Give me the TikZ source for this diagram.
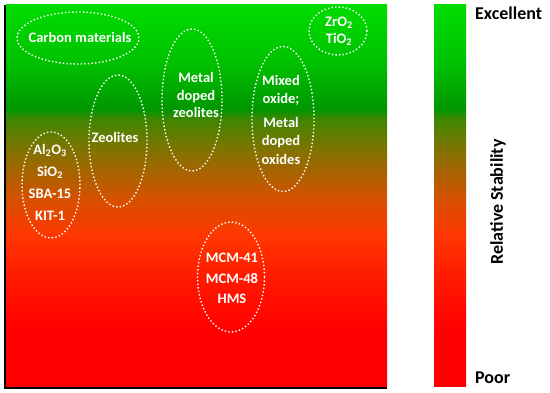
\documentclass[tikz,border=0pt]{standalone}
\usepackage{fontspec}
\setmainfont{Carlito}
\usetikzlibrary{shapes.geometric}
\definecolor{cA}{RGB}{0,220,0}
\definecolor{cB}{RGB}{0,195,0}
\definecolor{cC}{RGB}{0,150,0}
\definecolor{cD}{RGB}{60,135,0}
\definecolor{cE}{RGB}{130,115,0}
\definecolor{cF}{RGB}{215,80,0}
\definecolor{cG}{RGB}{255,55,0}
\definecolor{cH}{RGB}{255,25,0}
\definecolor{cI}{RGB}{255,0,0}
\pgfdeclareverticalshading{stab}{100bp}{%
  color(0bp)=(cI); color(25bp)=(cI); color(32.5bp)=(cI); color(39bp)=(cH);
  color(44.9bp)=(cG); color(49.5bp)=(cF); color(56bp)=(cE); color(60.2bp)=(cD);
  color(61.3bp)=(cC); color(67.8bp)=(cB); color(75bp)=(cA); color(100bp)=(cA)}
\tikzset{
  ring/.style={ellipse, draw=white, line width=1.4pt, dash pattern=on 1.4pt off 2.2pt, inner sep=0pt},
  lbl/.style={text=white, font=\bfseries\fontsize{14.5}{18}\selectfont, align=center, inner sep=0pt},
  side/.style={text=black, font=\bfseries\fontsize{18}{22}\selectfont, inner sep=0pt}
}
\begin{document}
\begin{tikzpicture}[x=1pt,y=-1pt]
\useasboundingbox (0,0) rectangle (550,393);
% main panel
\fill[shading=stab] (6,5) rectangle (387,387);
\draw[black, line width=2.5pt] (5,5) -- (5,388) -- (387,388);
% colour bar
\fill[shading=stab] (434,5) rectangle (466,387);
% ellipses
\node[ring, minimum width=122pt, minimum height=52pt] (e1) at (78,38) {};
\node[ring, minimum width=58pt, minimum height=132pt] (e2) at (118,141) {};
\node[ring, minimum width=60pt, minimum height=142pt] (e3) at (192,100) {};
\node[ring, minimum width=62pt, minimum height=145pt] (e4) at (283,119) {};
\node[ring, minimum width=58pt, minimum height=48pt] (e5) at (338,31) {};
\node[ring, minimum width=58pt, minimum height=106pt] (e6) at (51,185) {};
\node[ring, minimum width=67pt, minimum height=110pt] (e7) at (231,277) {};
% labels
\node[lbl] (t1) at (80,37) {Carbon materials};
\node[lbl] (t2) at (115,137) {Zeolites};
\node[lbl, font=\bfseries\fontsize{14.5}{17.5}\selectfont] (t3) at (196,95) {Metal\\doped\\zeolites};
\node[lbl, font=\bfseries\fontsize{14.5}{18.5}\selectfont] (t4) at (281,119.5) {Mixed\\oxide;\\[5pt]Metal\\doped\\oxides};
\node[lbl, font=\bfseries\fontsize{14.5}{17}\selectfont] (t5) at (339,31.5) {ZrO\textsubscript{2}\\TiO\textsubscript{2}};
\node[lbl, font=\bfseries\fontsize{14.5}{22}\selectfont] (t6) at (50,182) {Al\textsubscript{2}O\textsubscript{3}\\SiO\textsubscript{2}\\SBA-15\\KIT-1};
\node[lbl, font=\bfseries\fontsize{14.5}{20.5}\selectfont] (t7) at (232,278.5) {MCM-41\\MCM-48\\HMS};
% colour bar labels
\node[side, anchor=west] (ex) at (475,13) {Excellent};
\node[side, anchor=west] (po) at (475,378) {Poor};
\node[side, rotate=90] (rs) at (498,202) {Relative Stability};
\end{tikzpicture}
\end{document}
